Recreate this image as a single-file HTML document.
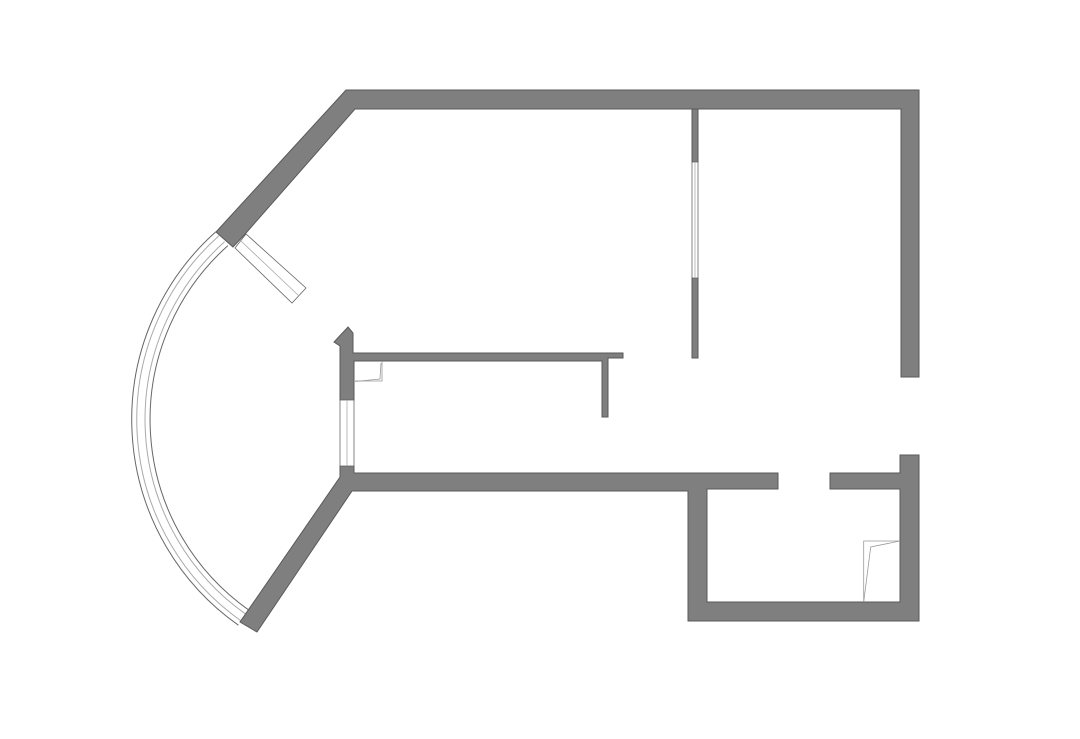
<!DOCTYPE html>
<html><head><meta charset="utf-8"><style>html,body{margin:0;padding:0;background:#fff}svg{display:block}</style></head>
<body>
<svg width="1080" height="739" viewBox="0 0 1080 739" xmlns="http://www.w3.org/2000/svg">
<rect width="1080" height="739" fill="#fff"/>
<g fill="none" stroke-width="1">
<path d="M215.7,231.9 A251.6,251.6 0 0 0 238.4,625.2" stroke="#666"/>
<path d="M219.1,235.6 A246.6,246.6 0 0 0 241.3,621.1" stroke="#aaa"/>
<path d="M224.6,241.8 A238.3,238.3 0 0 0 246.0,614.3" stroke="#aaa"/>
<path d="M227.9,245.6 A233.3,233.3 0 0 0 248.9,610.2" stroke="#666"/>
</g>
<g fill="#7f7f7f" stroke="#5a5a5a" stroke-width="1">
<polygon points="346,90 919,90 919,377 901,377 901,109 355,109 246,233 233,247 216,232"/>
<rect x="692" y="109" width="6" height="53"/>
<rect x="692" y="278" width="6" height="80"/>
<polygon points="348,327 353,333 353,353 623,353 623,358 608,358 608,417 602,417 602,361 354,361 354,400 340,400 340,346 334,342"/>
<polygon points="340,466 354,466 354,473 778,473 778,489 707,489 707,602 900,602 900,489 830,489 830,473 900,473 900,455 919,455 919,621 688,621 688,491 352,491 257,632 240,622 340,477"/>
</g>
<g fill="#fff" stroke="#666" stroke-width="0.8">
<polygon points="235,248 246,234 306,288 292,303"/>
<line x1="241" y1="241" x2="299" y2="296" stroke="#aaa"/>
<rect x="340" y="400" width="14" height="66"/>
<line x1="347" y1="400" x2="347" y2="466" stroke="#aaa"/>
<rect x="692" y="162" width="6" height="116"/>
<line x1="695" y1="162" x2="695" y2="278" stroke="#aaa"/>
</g>
<g fill="none" stroke="#999" stroke-width="0.8">
<polyline points="355,381 382,381 382,361"/>
<polyline points="355,381.5 380,379 381,363"/>
<polyline points="863.7,602 863.7,541 900,541"/>
<polyline points="863.7,602 870.7,547 900,541"/>
</g>
</svg>
</body></html>
